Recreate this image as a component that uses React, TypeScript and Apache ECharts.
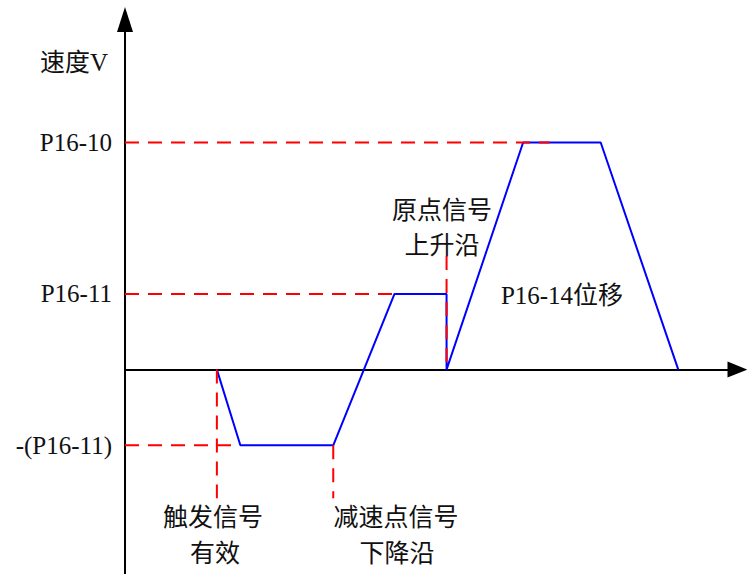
import React, { useEffect, useRef } from "react";
import * as echarts from "echarts";

// Velocity profile (time in arbitrary units, speed in multiples of P16-11)
const profileTime = [9, 11.3, 20.4, 26.4, 31.5, 31.5, 39, 46.6, 54.2];
const profileSpeed = [0, -1, -1, 1, 1, 0, 3, 3, 0];

// Y-axis level names
const levelValues = [3, 1, -1];
const levelNames = ["P16-10", "P16-11", "-(P16-11)"];

// Red dashed guide segments: [x1, y1, x2, y2]
const guideSegments: number[][] = [
  [0, 3, 41.6, 3],
  [0, 1, 26.4, 1],
  [0, -1, 10.5, -1],
  [9, 0, 9, -1.7],
  [20.4, -1, 20.4, -1.7],
  [31.5, 1.5, 31.5, 0],
];

const FONT = "Liberation Serif, Times New Roman, Noto Sans CJK SC, serif";

export default function App() {
  const ref = useRef<HTMLDivElement>(null);
  useEffect(() => {
    if (!ref.current) return;
    const chart = echarts.init(ref.current, undefined, { renderer: "svg" });
    const profile = profileTime.map((t, i) => [t, profileSpeed[i]]);
    const guides = guideSegments.map((s, i) => ({
      type: "line",
      name: "guide" + i,
      data: [
        [s[0], s[1]],
        [s[2], s[3]],
      ],
      symbol: "none",
      silent: true,
      z: 3,
      lineStyle: { color: "#ff0000", width: 2, type: [14, 9] },
    }));
    const txt = (text: string, x: number, y: number, align = "center") => ({
      type: "text",
      x,
      y,
      style: {
        text,
        fill: "#111",
        fontSize: 25,
        fontFamily: FONT,
        align,
        verticalAlign: "middle",
      },
    });
    chart.setOption({
      animation: false,
      backgroundColor: "#fff",
      grid: { left: 125, right: 9.5, top: 19.5, bottom: -2.2 },
      xAxis: {
        type: "value",
        min: 0,
        max: 60,
        axisLine: {
          show: true,
          onZero: true,
          symbol: ["none", "triangle"],
          symbolSize: [16, 20],
          lineStyle: { color: "#000", width: 2 },
        },
        axisTick: { show: false },
        axisLabel: { show: false },
        splitLine: { show: false },
      },
      yAxis: {
        type: "value",
        min: -2.7,
        max: 4.625,
        axisLine: {
          show: true,
          symbol: ["none", "triangle"],
          symbolSize: [16, 25],
          lineStyle: { color: "#000", width: 2 },
        },
        axisTick: { show: false },
        splitLine: { show: false },
        axisLabel: {
          show: true,
          customValues: levelValues,
          margin: 13,
          color: "#111",
          fontSize: 25,
          fontFamily: FONT,
          formatter: (v: number) => {
            const i = levelValues.indexOf(v);
            return i >= 0 ? levelNames[i] : "";
          },
        },
      },
      series: [
        {
          type: "line",
          name: "speed",
          data: profile,
          symbol: "none",
          z: 2,
          lineStyle: { color: "#0000ff", width: 2 },
        },
        ...guides,
      ],
      graphic: [
        txt("速度V", 74, 62),
        txt("原点信号", 442, 210),
        txt("上升沿", 442, 245),
        txt("P16-14位移", 562, 295),
        txt("触发信号", 213, 517),
        txt("有效", 215, 553),
        txt("减速点信号", 396, 517),
        txt("下降沿", 397, 553),
      ],
    });
    return () => chart.dispose();
  }, []);
  return (
    <div
      ref={ref}
      style={{ position: "fixed", left: 0, top: 0, width: 747, height: 574 }}
    />
  );
}
